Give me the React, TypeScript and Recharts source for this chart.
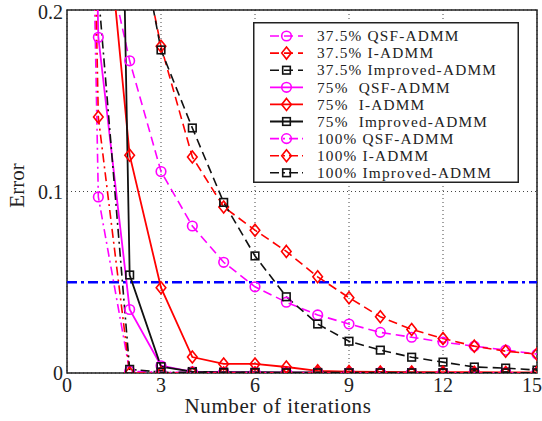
import React from 'react'
import {
  LineChart,
  Line,
  XAxis,
  YAxis,
  CartesianGrid,
  Legend,
  ReferenceLine,
  ReferenceArea,
} from 'recharts'

// iterations on the x axis
const iterations = [0, 1, 2, 3, 4, 5, 6, 7, 8, 9, 10, 11, 12, 13, 14, 15]

// error per iteration (null = not plotted)
const qsf375 = [null, 0.25, 0.172, 0.111, 0.081, 0.061, 0.0475, 0.039, 0.032, 0.027, 0.0224, 0.0197, 0.017, 0.0148, 0.0126, 0.0104]
const iadmm375 = [null, null, 0.265, 0.18, 0.119, 0.0915, 0.0787, 0.067, 0.053, 0.0415, 0.031, 0.024, 0.019, 0.0148, 0.012, 0.0104]
const improved375 = [null, null, 0.27, 0.178, 0.135, 0.094, 0.0645, 0.042, 0.027, 0.0175, 0.0126, 0.0087, 0.006, 0.0033, 0.0027, 0.0016]
const qsf75 = [1.0, 0.185, 0.035, 0.004, 0.0006, 0.0004, 0.0003, 0.0003, 0.0002, 0.0002, 0.0002, 0.0001, 0.0001, 0.0001, 0.0001, 0.0001]
const iadmm75 = [null, 0.3, 0.12, 0.047, 0.0088, 0.005, 0.005, 0.0033, 0.0012, 0.0008, 0.0006, 0.0005, 0.0004, 0.0004, 0.0003, 0.0003]
const improved75 = [null, 1.0, 0.054, 0.0035, 0.0008, 0.0005, 0.0004, 0.0003, 0.0003, 0.0002, 0.0002, 0.0002, 0.0001, 0.0001, 0.0001, 0.0001]
const qsf100 = [1.0, 0.097, 0.001, 0.0004, 0.0003, 0.0002, 0.0002, 0.0001, 0.0001, 0.0001, 0.0001, 0.0001, 0.0001, 0.0001, 0.0001, 0.0001]
const iadmm100 = [1.0, 0.141, 0.0, 0.0, 0.0, 0.0, 0.0, 0.0, 0.0, 0.0, 0.0, 0.0, 0.0, 0.0, 0.0, 0.0]
const improved100 = [1.0, 0.21, 0.002, 0.0005, 0.0003, 0.0002, 0.0002, 0.0001, 0.0001, 0.0001, 0.0001, 0.0001, 0.0001, 0.0001, 0.0001, 0.0001]

const xTicks = [0, 3, 6, 9, 12, 15]
const yTicks = [0, 0.1, 0.2]
const threshold = 0.05

const MAGENTA = '#ff00ff'
const RED = '#ff0000'
const BLACK = '#111111'
const FONT = '"Liberation Serif", "Times New Roman", serif'

const DASHED = '9 5'
const DASHDOT = '9 4 2 4'

type Shape = 'circle' | 'diamond' | 'square'

interface SeriesDef {
  key: string
  name: string
  values: (number | null)[]
  color: string
  dash?: string
  width: number
  shape: Shape
}

const series: SeriesDef[] = [
  { key: 'qsf375', name: '37.5% QSF-ADMM', values: qsf375, color: MAGENTA, dash: DASHED, width: 1.6, shape: 'circle' },
  { key: 'iadmm375', name: '37.5% I-ADMM', values: iadmm375, color: RED, dash: DASHED, width: 1.6, shape: 'diamond' },
  { key: 'improved375', name: '37.5% Improved-ADMM', values: improved375, color: BLACK, dash: DASHED, width: 1.6, shape: 'square' },
  { key: 'qsf75', name: '75%\u00a0 QSF-ADMM', values: qsf75, color: MAGENTA, width: 1.8, shape: 'circle' },
  { key: 'iadmm75', name: '75%\u00a0 I-ADMM', values: iadmm75, color: RED, width: 1.8, shape: 'diamond' },
  { key: 'improved75', name: '75%\u00a0 Improved-ADMM', values: improved75, color: BLACK, width: 1.8, shape: 'square' },
  { key: 'qsf100', name: '100% QSF-ADMM', values: qsf100, color: MAGENTA, dash: DASHDOT, width: 1.6, shape: 'circle' },
  { key: 'iadmm100', name: '100% I-ADMM', values: iadmm100, color: RED, dash: DASHDOT, width: 1.6, shape: 'diamond' },
  { key: 'improved100', name: '100% Improved-ADMM', values: improved100, color: BLACK, dash: DASHDOT, width: 1.6, shape: 'square' },
]

const data = iterations.map((it, i) => {
  const row: Record<string, number | null> = { it }
  series.forEach((s) => {
    row[s.key] = s.values[i]
  })
  return row
})

function marker(shape: Shape, cx: number, cy: number, color: string, key?: React.Key) {
  if (shape === 'circle') {
    return <circle key={key} cx={cx} cy={cy} r={4.8} fill="none" stroke={color} strokeWidth={1.6} />
  }
  if (shape === 'diamond') {
    const d = 6
    return (
      <polygon
        key={key}
        points={`${cx},${cy - d} ${cx + d * 0.8},${cy} ${cx},${cy + d} ${cx - d * 0.8},${cy}`}
        fill="none"
        stroke={color}
        strokeWidth={1.6}
      />
    )
  }
  return <rect key={key} x={cx - 3.8} y={cy - 3.8} width={7.6} height={7.6} fill="none" stroke={color} strokeWidth={1.6} />
}

function makeDot(shape: Shape, color: string) {
  return (props: any) => {
    const { cx, cy, index } = props
    if (cx == null || cy == null || props.value == null) return <g key={`d-${index}`} />
    return marker(shape, cx, cy, color, `d-${index}`)
  }
}

/** MATLAB-style boxed legend */
function LegendBox() {
  const w = 266
  const h = 161
  return (
    <svg width={w} height={h} style={{ display: 'block' }}>
      <rect x={0.75} y={0.75} width={w - 1.5} height={h - 1.5} fill="#fff" stroke="#222" strokeWidth={1.5} />
      {series.map((s, i) => {
        const y = 14 + i * 17.1
        return (
          <g key={s.key}>
            <line x1={17} x2={50} y1={y} y2={y} stroke={s.color} strokeWidth={s.width} strokeDasharray={s.dash} />
            {marker(s.shape, 33.5, y, s.color)}
            <text
              x={64}
              y={y}
              dy="0.34em"
              fontSize={15.3}
              fontFamily={FONT}
              fill="#222"
              letterSpacing={1.2}
              style={{ whiteSpace: 'pre' }}
            >
              {s.name}
            </text>
          </g>
        )
      })}
    </svg>
  )
}

function YLabel(props: any) {
  const vb = props.viewBox || { x: 0, y: 10, width: 67, height: 363 }
  const cx = 17
  const cy = vb.y + vb.height / 2 - 6
  return (
    <text
      x={cx}
      y={cy}
      transform={`rotate(-90, ${cx}, ${cy})`}
      textAnchor="middle"
      dominantBaseline="central"
      fontSize={21}
      fontFamily={FONT}
      fill="#222"
    >
      Error
    </text>
  )
}

function XLabel(props: any) {
  const vb = props.viewBox || { x: 67, y: 373, width: 470, height: 48 }
  return (
    <text
      x={vb.x + vb.width / 2 - 24}
      y={vb.y + 40}
      textAnchor="middle"
      fontSize={21}
      fontFamily={FONT}
      fill="#222"
      letterSpacing={0.6}
    >
      Number of iterations
    </text>
  )
}

export default function App() {
  const tickStyle = { fontSize: 20, fill: '#222', fontFamily: FONT }
  return (
    <div style={{ position: 'absolute', left: 0, top: 0, width: 542, height: 421, background: '#fff' }}>
      <LineChart width={542} height={421} data={data} margin={{ top: 10, right: 5, bottom: 0, left: 0 }}>
        <CartesianGrid stroke="#444" strokeDasharray="1 3" strokeWidth={1} />
        <XAxis
          dataKey="it"
          type="number"
          domain={[0, 15]}
          ticks={xTicks}
          allowDataOverflow
          height={48}
          axisLine={false}
          tickLine={false}
          tickSize={0}
          tickMargin={5}
          tick={tickStyle}
          label={<XLabel />}
        />
        <YAxis
          type="number"
          domain={[0, 0.2]}
          ticks={yTicks}
          allowDataOverflow
          width={67}
          axisLine={false}
          tickLine={false}
          tickSize={0}
          tickMargin={4}
          tick={tickStyle}
          tickFormatter={(v: number) => (v === 0 ? '0' : String(v))}
          label={<YLabel />}
        />
        <ReferenceLine y={threshold} stroke="#0000ff" strokeWidth={2.6} strokeDasharray="10 4 3 4" />
        {series.map((s) => (
          <Line
            key={s.key}
            dataKey={s.key}
            name={s.name}
            type="linear"
            stroke={s.color}
            strokeWidth={s.width}
            strokeDasharray={s.dash}
            dot={makeDot(s.shape, s.color)}
            activeDot={false}
            isAnimationActive={false}
          />
        ))}
        <ReferenceArea x1={0} x2={15} y1={0} y2={0.2} fill="none" fillOpacity={0} stroke="#222" strokeWidth={1.5} />
        <Legend
          layout="vertical"
          align="center"
          verticalAlign="middle"
          content={<LegendBox />}
          wrapperStyle={{ top: 22, left: 253, width: 266, height: 161 }}
        />
      </LineChart>
    </div>
  )
}
